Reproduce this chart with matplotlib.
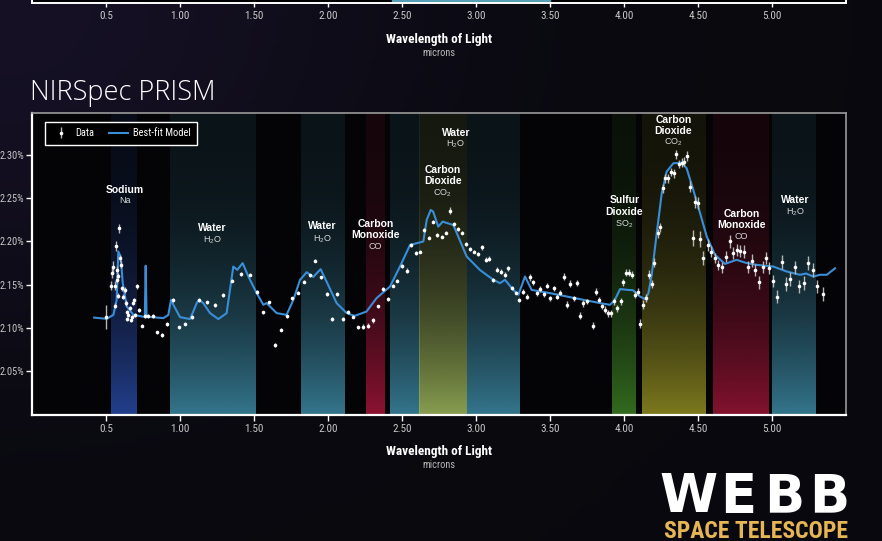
import numpy as np
import matplotlib
matplotlib.use("Agg")
import matplotlib.pyplot as plt
from matplotlib import font_manager

# ---- data ----
data_wl = [0.498, 0.532, 0.538, 0.55, 0.561, 0.561, 0.568, 0.572, 0.577, 0.583, 0.583, 0.59, 0.595, 0.599,
           0.606, 0.617, 0.628, 0.635, 0.64, 0.644, 0.651, 0.662, 0.669, 0.673, 0.68, 0.689, 0.696, 0.707,
           0.725, 0.741, 0.764, 0.786, 0.815, 0.847, 0.878, 0.914, 0.95, 0.993, 1.036, 1.081, 1.13, 1.182,
           1.236, 1.293, 1.353, 1.41, 1.473, 1.52, 1.563, 1.599, 1.64, 1.682, 1.72, 1.759, 1.8, 1.838,
           1.878, 1.914, 1.95, 1.99, 2.025, 2.063, 2.099, 2.137, 2.171, 2.205, 2.239, 2.27, 2.306, 2.338,
           2.37, 2.403, 2.437, 2.468, 2.5, 2.532, 2.563, 2.592, 2.622, 2.651, 2.681, 2.707, 2.739, 2.768,
           2.795, 2.824, 2.851, 2.88, 2.905, 2.932, 2.959, 2.986, 3.014, 3.041, 3.068, 3.09, 3.117, 3.144,
           3.169, 3.194, 3.218, 3.245, 3.268, 3.293, 3.315, 3.342, 3.365, 3.387, 3.41, 3.434, 3.457, 3.48,
           3.502, 3.525, 3.547, 3.57, 3.593, 3.615, 3.637, 3.66, 3.682, 3.703, 3.725, 3.748, 3.788, 3.811,
           3.831, 3.849, 3.872, 3.892, 3.912, 3.934, 3.955, 3.978, 3.993, 4.014, 4.034, 4.054, 4.074, 4.092,
           4.11, 4.13, 4.149, 4.169, 4.187, 4.205, 4.228, 4.243, 4.261, 4.279, 4.3, 4.318, 4.336, 4.354,
           4.372, 4.39, 4.407, 4.426, 4.446, 4.464, 4.48, 4.498, 4.516, 4.534, 4.57, 4.588, 4.615, 4.637,
           4.66, 4.689, 4.716, 4.739, 4.761, 4.784, 4.811, 4.836, 4.863, 4.885, 4.912, 4.937, 4.959, 4.982,
           5.009, 5.032, 5.068, 5.095, 5.124, 5.155, 5.185, 5.214, 5.245, 5.275, 5.306, 5.342]
data_val = [2.1126, 2.149, 2.1634, 2.170, 2.149, 2.1256, 2.195, 2.1557, 2.1672, 2.160, 2.1372, 2.2153, 2.1807, 2.173,
            2.146, 2.1364, 2.144, 2.1288, 2.1103, 2.119, 2.1152, 2.123, 2.1095, 2.113, 2.1288, 2.1326, 2.1152, 2.148,
            2.121, 2.1026, 2.114, 2.114, 2.114, 2.0948, 2.0918, 2.1045, 2.1326, 2.1006, 2.1049, 2.1126, 2.1326, 2.1295,
            2.1268, 2.138, 2.1549, 2.1626, 2.1618, 2.1418, 2.118, 2.1295, 2.0806, 2.098, 2.1133, 2.1341, 2.141, 2.1537,
            2.1607, 2.178, 2.1584, 2.1395, 2.1103, 2.1395, 2.1103, 2.1187, 2.113, 2.1006, 2.1017, 2.1026, 2.1087, 2.125,
            2.145, 2.1334, 2.149, 2.1549, 2.1718, 2.1664, 2.196, 2.1865, 2.1884, 2.2134, 2.2045, 2.223, 2.2076, 2.2057,
            2.2103, 2.2353, 2.22, 2.2142, 2.2103, 2.1972, 2.1911, 2.1884, 2.1853, 2.1934, 2.1788, 2.1803, 2.1557, 2.1672,
            2.1653, 2.1615, 2.1692, 2.146, 2.141, 2.1326, 2.142, 2.1364, 2.1584, 2.1526, 2.1403, 2.145, 2.1391, 2.149,
            2.1345, 2.146, 2.1364, 2.141, 2.1595, 2.1268, 2.151, 2.1345, 2.152, 2.114, 2.1288, 2.1307, 2.1026, 2.142,
            2.1326, 2.125, 2.121, 2.1172, 2.1172, 2.1307, 2.123, 2.1307, 2.1526, 2.164, 2.164, 2.1615, 2.1384, 2.142,
            2.1049, 2.1268, 2.1345, 2.1615, 2.151, 2.1757, 2.2096, 2.2165, 2.2615, 2.273, 2.273, 2.2804, 2.2788, 2.3008,
            2.2896, 2.2911, 2.2923, 2.2988, 2.2634, 2.2038, 2.2461, 2.245, 2.2027, 2.1807, 2.196, 2.1884, 2.1807, 2.173,
            2.17, 2.1826, 2.200, 2.1865, 2.190, 2.189, 2.1884, 2.1703, 2.178, 2.1672, 2.1526, 2.171, 2.181, 2.1692,
            2.1541, 2.1364, 2.1765, 2.151, 2.1565, 2.17, 2.148, 2.152, 2.175, 2.1672, 2.148, 2.1395]
data_err = [0.014, 0.005, 0.006, 0.007, 0.005, 0.003, 0.006, 0.004, 0.005, 0.004, 0.003, 0.005, 0.004, 0.004,
            0.003, 0.003, 0.003, 0.003, 0.002, 0.002, 0.002, 0.002, 0.002, 0.002, 0.002, 0.002, 0.002, 0.003,
            0.002, 0.002, 0.002, 0.002, 0.002, 0.002, 0.002, 0.002, 0.002, 0.002, 0.002, 0.002, 0.002, 0.002,
            0.002, 0.002, 0.002, 0.002, 0.002, 0.002, 0.002, 0.002, 0.002, 0.002, 0.002, 0.002, 0.002, 0.002,
            0.002, 0.002, 0.002, 0.002, 0.002, 0.002, 0.002, 0.002, 0.002, 0.002, 0.003, 0.003, 0.003, 0.002,
            0.002, 0.002, 0.002, 0.002, 0.002, 0.003, 0.002, 0.002, 0.002, 0.002, 0.002, 0.002, 0.002, 0.002,
            0.002, 0.004, 0.002, 0.002, 0.002, 0.002, 0.002, 0.002, 0.002, 0.003, 0.003, 0.003, 0.002, 0.003,
            0.003, 0.003, 0.003, 0.002, 0.002, 0.002, 0.003, 0.003, 0.004, 0.003, 0.003, 0.003, 0.003, 0.003,
            0.003, 0.003, 0.003, 0.003, 0.004, 0.004, 0.004, 0.003, 0.004, 0.004, 0.004, 0.003, 0.004, 0.004,
            0.003, 0.003, 0.004, 0.004, 0.004, 0.004, 0.004, 0.004, 0.004, 0.004, 0.004, 0.004, 0.004, 0.004,
            0.005, 0.005, 0.005, 0.005, 0.005, 0.005, 0.005, 0.005, 0.005, 0.005, 0.005, 0.005, 0.005, 0.005,
            0.005, 0.005, 0.005, 0.006, 0.006, 0.009, 0.007, 0.007, 0.009, 0.008, 0.007, 0.006, 0.006, 0.006,
            0.006, 0.006, 0.007, 0.007, 0.007, 0.007, 0.007, 0.007, 0.007, 0.007, 0.007, 0.007, 0.007, 0.007,
            0.007, 0.008, 0.008, 0.008, 0.008, 0.008, 0.008, 0.008, 0.008, 0.008, 0.008, 0.008]

model_wl = [0.42, 0.505, 0.55, 0.572, 0.583, 0.599, 0.613, 0.64, 0.685, 0.752, 0.762, 0.768, 0.774, 0.782,
            0.887, 0.921, 0.939, 0.955, 1.0, 1.068, 1.113, 1.128, 1.157, 1.203, 1.259, 1.315, 1.36, 1.387,
            1.423, 1.462, 1.518, 1.563, 1.585, 1.653, 1.72, 1.766, 1.811, 1.856, 1.9, 1.95, 1.99, 2.058,
            2.126, 2.18, 2.26, 2.328, 2.419, 2.486, 2.554, 2.6, 2.644, 2.667, 2.694, 2.71, 2.745, 2.775,
            2.81, 2.847, 2.937, 3.027, 3.117, 3.162, 3.196, 3.252, 3.286, 3.331, 3.376, 3.5, 3.613, 3.725,
            3.838, 3.905, 3.939, 3.973, 4.029, 4.06, 4.108, 4.142, 4.165, 4.187, 4.221, 4.255, 4.288, 4.333,
            4.39, 4.423, 4.468, 4.514, 4.559, 4.615, 4.682, 4.761, 4.82, 4.896, 5.009, 5.099, 5.189, 5.23,
            5.279, 5.324, 5.37, 5.426]
model_val = [2.112, 2.1106, 2.1152, 2.1326, 2.1884, 2.1826, 2.152, 2.125, 2.1152, 2.113, 2.113, 2.172, 2.113, 2.113,
             2.1114, 2.115, 2.1326, 2.1268, 2.1126, 2.1103, 2.1288, 2.1326, 2.1288, 2.1172, 2.1103, 2.1172, 2.171, 2.1672,
             2.175, 2.1595, 2.1403, 2.1268, 2.1288, 2.1172, 2.1152, 2.1326, 2.1557, 2.1645, 2.159, 2.168, 2.1537, 2.1288,
             2.1172, 2.114, 2.119, 2.1345, 2.148, 2.171, 2.196, 2.198, 2.2, 2.225, 2.2365, 2.2346, 2.2172, 2.223,
             2.221, 2.219, 2.1826, 2.167, 2.1557, 2.1518, 2.1557, 2.144, 2.1384, 2.1595, 2.144, 2.1403, 2.1364, 2.1326,
             2.1288, 2.1268, 2.1326, 2.145, 2.144, 2.1437, 2.1364, 2.1334, 2.1403, 2.161, 2.2096, 2.2558, 2.2807, 2.2904,
             2.2911, 2.2846, 2.2596, 2.2327, 2.2057, 2.1845, 2.1741, 2.1788, 2.1755, 2.173, 2.171, 2.1653, 2.1615, 2.163,
             2.1595, 2.1615, 2.1615, 2.169]

# absorption bands: start, end, colour
band_start = [0.532, 0.932, 1.815, 2.257, 2.419, 2.617, 2.937, 3.921, 4.124, 4.603, 5.0]
band_end = [0.707, 1.507, 2.108, 2.385, 2.617, 2.937, 3.293, 4.081, 4.552, 4.975, 5.297]
band_color = ["#2748a0", "#3b86a0", "#3b86a0", "#a01538", "#3b86a0", "#9cb45a", "#3b86a0",
              "#3a7a22", "#8e8a22", "#961434", "#3b86a0"]

# labels: x, name, formula, name y, formula y
lab_x = [0.628, 1.216, 1.96, 2.322, 2.863, 2.775, 4.002, 4.333, 4.795, 5.155]
lab_name = ["Sodium", "Water", "Water", "Carbon\nMonoxide", "Water", "Carbon\nDioxide",
            "Sulfur\nDioxide", "Carbon\nDioxide", "Carbon\nMonoxide", "Water"]
lab_formula = ["Na", r"$\mathregular{H_2O}$", r"$\mathregular{H_2O}$", "CO", r"$\mathregular{H_2O}$",
               r"$\mathregular{CO_2}$", r"$\mathregular{SO_2}$", r"$\mathregular{CO_2}$", "CO",
               r"$\mathregular{H_2O}$"]
lab_name_y = [2.2596, 2.2157, 2.218, 2.2134, 2.3254, 2.2764, 2.2411, 2.334, 2.2256, 2.248]
lab_form_y = [2.2469, 2.2019, 2.203, 2.1938, 2.3127, 2.2561, 2.2203, 2.315, 2.2053, 2.2342]

xticks = [0.5, 1.0, 1.5, 2.0, 2.5, 3.0, 3.5, 4.0, 4.5, 5.0]
xtick_labels = ["0.5", "1.00", "1.50", "2.00", "2.50", "3.00", "3.50", "4.00", "4.50", "5.00"]
yticks = [2.05, 2.10, 2.15, 2.20, 2.25, 2.30]


def pick(*names):
    have = {f.name for f in font_manager.fontManager.ttflist}
    for n in names:
        if n in have:
            return n
    return "DejaVu Sans"


narrow = pick("Liberation Sans Narrow", "Roboto Condensed", "Liberation Sans")
sans = pick("Liberation Sans", "Roboto")
plt.rcParams["font.family"] = [sans, "DejaVu Sans"]

fig = plt.figure(figsize=(8.82, 5.41), dpi=100)
fig.patch.set_facecolor("#0b0b12")

# dark background with a faint purple haze top-left
bg = fig.add_axes([0, 0, 1, 1], zorder=-10)
gx, gy = np.meshgrid(np.linspace(0, 1, 200), np.linspace(0, 1, 120))
haze = np.exp(-((gx / 0.45) ** 2 + (gy / 0.6) ** 2))
img = np.zeros((120, 200, 3))
img[..., 0] = 0.035 + 0.05 * haze
img[..., 1] = 0.035 + 0.03 * haze
img[..., 2] = 0.055 + 0.09 * haze
bg.imshow(img, aspect="auto", extent=(0, 1, 0, 1), origin="upper")
bg.axis("off")

# ---- upper panel remnant (cut off at top) ----
axt = fig.add_axes([0.0363, 1 - 3 / 541, 0.9229, 0.3])
axt.set_facecolor("black")
axt.set_xlim(0, 5.5)
axt.set_ylim(0, 1)
axt.axvspan(2.43, 3.5, color="#5a9fb8")
axt.set_xticks(xticks)
axt.set_xticklabels(xtick_labels)
axt.set_yticks([])
for s in axt.spines.values():
    s.set_color("white")
    s.set_linewidth(1.4)
axt.tick_params(axis="x", colors="white", labelcolor="#c8c8c8", length=3, width=1, pad=3,
                labelsize=8)
for t in axt.get_xticklabels():
    t.set_family(narrow)
fig.text(0.498, 1 - 39 / 541, "Wavelength of Light", color="white", fontsize=9.5, weight="bold",
         ha="center", va="center", family=narrow)
fig.text(0.498, 1 - 53 / 541, "microns", color="#b8b8b8", fontsize=7.5, ha="center", va="center",
         family=narrow)

# ---- main panel ----
ax = fig.add_axes([0.0363, 0.2338, 0.9229, 0.5573])
ax.set_facecolor("#040406")

for x0, x1, c in zip(band_start, band_end, band_color):
    rgb = matplotlib.colors.to_rgb(c)
    t = np.linspace(0, 1, 256)
    grad = np.zeros((256, 1, 4))
    grad[..., 0, 0] = rgb[0]
    grad[..., 0, 1] = rgb[1]
    grad[..., 0, 2] = rgb[2]
    grad[:, 0, 3] = 0.12 + 0.76 * t ** 2.4
    ax.imshow(grad, extent=(x0, x1, 2.0, 2.3485), aspect="auto", origin="upper", zorder=0)

model_line, = ax.plot(model_wl, model_val, color="#3a8ed8", lw=1.5, zorder=3,
                      label="Best-fit Model")
eb = ax.errorbar(data_wl, data_val, yerr=data_err, fmt="o", color="white", ms=2.6, mew=0,
                 ecolor="#b4b4b4", elinewidth=1.0, capsize=0, zorder=4, label="Data")

for x, nm, fm, ny, fy in zip(lab_x, lab_name, lab_formula, lab_name_y, lab_form_y):
    ax.text(x, ny, nm, color="white", fontsize=7.5, weight="bold", ha="center", va="center",
            linespacing=1.15, zorder=5)
    ax.text(x, fy, fm, color="#d8d8d8", fontsize=6.5, ha="center", va="center", zorder=5)

ax.set_xlim(0, 5.5)
ax.set_ylim(2.0, 2.3485)
ax.set_xticks(xticks)
ax.set_xticklabels(xtick_labels)
ax.set_yticks(yticks)
ax.set_yticklabels(["{:.2f}%".format(v) for v in yticks])
ax.tick_params(axis="x", colors="white", labelcolor="#c8c8c8", length=4, width=1,
               labelsize=8, pad=3)
ax.tick_params(axis="y", colors="white", labelcolor="#c8c8c8", length=4, width=1,
               labelsize=7.5, pad=1.5)
for t in ax.get_xticklabels() + ax.get_yticklabels():
    t.set_family(narrow)
for side in ["left", "bottom"]:
    ax.spines[side].set_color("white")
    ax.spines[side].set_linewidth(1.6)
for side in ["top", "right"]:
    ax.spines[side].set_color("#9a9a9a")
    ax.spines[side].set_linewidth(1.2)

leg = ax.legend(handles=[eb, model_line], labels=["Data", "Best-fit Model"], loc="upper left",
                bbox_to_anchor=(13 / 814, 1 - 9 / 301.5), borderaxespad=0,
                prop={"family": narrow, "size": 7.5},
                frameon=True, fancybox=False, facecolor="black", edgecolor="white",
                framealpha=1, ncol=2, handlelength=1.8, handletextpad=0.5, columnspacing=1.4,
                borderpad=0.6)
leg.get_frame().set_linewidth(1)
for t in leg.get_texts():
    t.set_color("white")

fig.text(0.034, 1 - 93 / 541, "NIRSpec PRISM", color="white", fontsize=19.5, ha="left",
         va="center", family=[pick("Open Sans", "Lato"), "DejaVu Sans"], weight="light")

fig.text(0.498, 1 - 452 / 541, "Wavelength of Light", color="white", fontsize=9.5, weight="bold",
         ha="center", va="center", family=narrow)
fig.text(0.498, 1 - 465 / 541, "microns", color="#b8b8b8", fontsize=7.5, ha="center", va="center",
         family=narrow)

# Webb logo text, letters spaced out to the logo's width
for ch, cx in zip("WEBB", [688, 738, 784, 829]):
    fig.text(cx / 882, 1 - 497 / 541, ch, color="white", fontsize=38, weight="bold",
             ha="center", va="center", family="DejaVu Sans")
fig.text(756 / 882, 1 - 531 / 541, "SPACE TELESCOPE", color="#e6b554", fontsize=17,
         weight="bold", ha="center", va="center", family=narrow)

fig.savefig("out.png", dpi=100, facecolor=fig.get_facecolor())
